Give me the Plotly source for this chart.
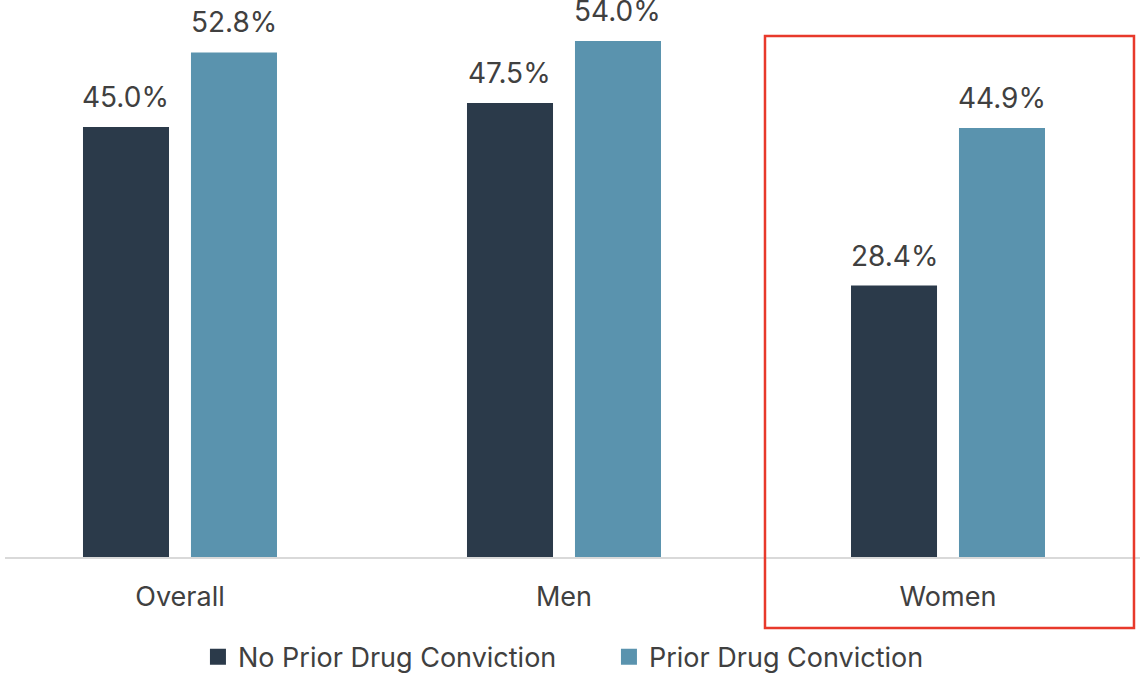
import plotly.graph_objects as go

categories = ["Overall", "Men", "Women"]
no_prior = [45.0, 47.5, 28.4]
prior = [52.8, 54.0, 44.9]
series_names = ["No Prior Drug Conviction", "Prior Drug Conviction"]

DARK = "#2b3a4a"
LIGHT = "#5a93ae"
TEXT = "#404040"
FONT = "Inter"

BAR_W = 0.224
OFFSETS = [-0.2526, 0.0286]
LABEL_XSHIFT = [-54, 54]

fig = go.Figure()
for vals, name, color, off in [(no_prior, series_names[0], DARK, OFFSETS[0]),
                               (prior, series_names[1], LIGHT, OFFSETS[1])]:
    fig.add_trace(go.Bar(
        x=categories, y=vals, name=name, showlegend=False,
        marker=dict(color=color, line=dict(width=0)),
        width=BAR_W, offset=off, cliponaxis=False,
    ))

# legend proxies with larger square swatches
for name, color in [(series_names[0], DARK), (series_names[1], LIGHT)]:
    fig.add_trace(go.Scatter(
        x=[None], y=[None], mode="markers", name=name,
        marker=dict(symbol="square", size=17, color=color),
    ))

# value labels
for vals, xs in [(no_prior, LABEL_XSHIFT[0]), (prior, LABEL_XSHIFT[1])]:
    for c, v in zip(categories, vals):
        fig.add_annotation(x=c, y=v, text=f"{v:.1f}%", showarrow=False,
                           xshift=xs, yshift=11, yanchor="bottom",
                           font=dict(size=28, color=TEXT, family=FONT))

fig.add_shape(type="rect", xref="paper", yref="paper",
              x0=0.6696, x1=0.9947, y0=-0.1275, y1=0.9354,
              line=dict(color="#e8392b", width=2.5), fillcolor="rgba(0,0,0,0)")

fig.update_layout(
    width=1140, height=678,
    margin=dict(l=5, r=0, t=0, b=121, autoexpand=False),
    paper_bgcolor="white", plot_bgcolor="white",
    font=dict(family=FONT, color=TEXT, size=26),
    showlegend=True,
    legend=dict(orientation="h", x=0.17, xanchor="left", y=-0.18, yanchor="middle",
                font=dict(size=27, color=TEXT, family=FONT), itemwidth=30,
                entrywidth=366, entrywidthmode="pixels",
                itemsizing="trace", traceorder="normal"),
    xaxis=dict(range=[-0.4557, 2.5], showgrid=False, zeroline=False,
               showline=True, linecolor="#d9d9d9", linewidth=2,
               ticks="", ticklabelstandoff=15,
               tickfont=dict(size=27, color=TEXT, family=FONT)),
    yaxis=dict(range=[0, 58.29], visible=False, showgrid=False, zeroline=False),
)

fig.write_html("out.html", config={"displayModeBar": False},
               post_script="document.body.style.margin='0';document.body.style.overflow='hidden';")
